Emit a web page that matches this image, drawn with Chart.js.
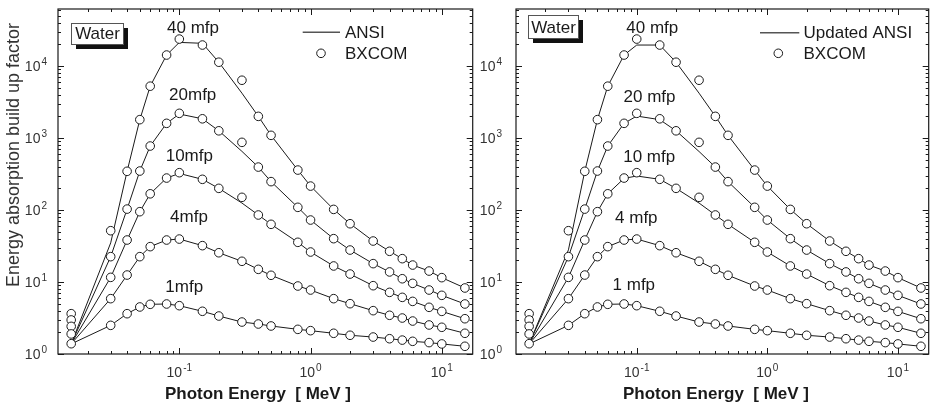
<!DOCTYPE html>
<html>
<head>
<meta charset="utf-8">
<script src="https://cdn.jsdelivr.net/npm/chart.js@4.4.0/dist/chart.umd.min.js"></script>
<style>
  html, body { margin: 0; padding: 0; background: #fff; overflow: hidden; }
  #wrap { position: relative; width: 931px; height: 404px; overflow: hidden; }
  canvas { position: absolute; top: 0; }
  #left { left: 0; }
  #right { left: 478px; }
</style>
</head>
<body>
<div id="wrap">
  <canvas id="left" width="478" height="404"></canvas>
  <canvas id="right" width="456" height="404"></canvas>
</div>
<script>
// photon energies (MeV)
const energy = [0.015, 0.03, 0.04, 0.05, 0.06, 0.08, 0.1, 0.15, 0.2, 0.3, 0.4, 0.5, 0.8, 1, 1.5, 2, 3, 4, 5, 6, 8, 10, 15];

// BXCOM points
const bx1  = [1.39, 2.5, 3.63, 4.5, 4.9, 4.95, 4.69, 3.92, 3.37, 2.78, 2.61, 2.45, 2.2, 2.11, 1.94, 1.82, 1.72, 1.63, 1.56, 1.5, 1.44, 1.38, 1.28];
const bx4  = [1.9, 5.87, 12.5, 22.5, 31, 38.3, 39.5, 32, 25.5, 19.4, 15, 12.4, 8.8, 7.74, 5.87, 5.0, 4.0, 3.45, 3.16, 2.87, 2.53, 2.35, 1.94];
const bx10 = [2.42, 11.6, 38.3, 94.8, 168, 278, 330, 267, 200, 150, 85.3, 63.3, 35.6, 26.1, 16.7, 12.9, 8.89, 7.18, 6.12, 5.38, 4.45, 3.91, 3.09];
const bx20 = [2.97, 22.5, 103, 348, 774, 1600, 2203, 1850, 1260, 871, 395, 248, 109, 72.6, 40, 27.8, 18, 13.8, 11.1, 9.58, 7.74, 6.53, 4.95];
const bx40 = [3.63, 51.6, 345, 1800, 5250, 14220, 23700, 19580, 11300, 6350, 2000, 1090, 359, 215, 102, 64.5, 37.1, 26.7, 21.1, 17.2, 14.2, 11.5, 8.26];

// ANSI curves (left)
const ansi1  = [1.38, 2.5, 3.63, 4.5, 4.9, 4.95, 4.69, 3.92, 3.37, 2.78, 2.61, 2.45, 2.2, 2.11, 1.94, 1.82, 1.72, 1.63, 1.56, 1.5, 1.44, 1.38, 1.28];
const ansi4  = [1.38, 5.87, 12.5, 22.5, 31, 38.3, 39.5, 32, 25.5, 19.4, 15, 12.4, 8.8, 7.74, 5.87, 5.0, 4.0, 3.45, 3.16, 2.87, 2.53, 2.35, 1.94];
const ansi10 = [1.38, 11.6, 38.3, 94.8, 168, 278, 322, 267, 200, 125, 85.3, 63.3, 35.6, 26.1, 16.7, 12.9, 8.89, 7.18, 6.12, 5.38, 4.45, 3.91, 3.09];
const ansi20 = [1.38, 22.5, 103, 348, 774, 1600, 2155, 1850, 1260, 653, 395, 248, 109, 72.6, 40, 27.8, 18, 13.8, 11.1, 9.58, 7.74, 6.53, 4.95];
const ansi40 = [1.38, 35, 345, 1800, 5250, 14220, 21300, 20700, 11300, 4200, 2000, 1090, 359, 215, 102, 64.5, 37.1, 26.7, 21.1, 17.2, 14.2, 11.5, 8.26];

// Updated ANSI curves (right)
const upd1  = [1.38, 2.5, 3.63, 4.5, 4.9, 4.95, 4.69, 3.92, 3.37, 2.78, 2.61, 2.45, 2.2, 2.11, 1.94, 1.82, 1.72, 1.63, 1.56, 1.5, 1.44, 1.38, 1.28];
const upd4  = [1.38, 5.87, 12.5, 22.5, 31, 38.3, 39.5, 32, 25.5, 19.4, 15, 12.4, 8.8, 7.74, 5.87, 5.0, 4.0, 3.45, 3.16, 2.87, 2.53, 2.35, 1.94];
const upd10 = [1.38, 11.6, 38.3, 94.8, 168, 275, 297, 267, 200, 125, 85.3, 63.3, 35.6, 26.1, 16.7, 12.9, 8.89, 7.18, 6.12, 5.38, 4.45, 3.91, 3.09];
const upd20 = [1.38, 22.5, 103, 348, 774, 1600, 2020, 1800, 1260, 650, 395, 248, 109, 72.6, 40, 27.8, 18, 13.8, 11.1, 9.58, 7.74, 6.53, 4.95];
const upd40 = [1.38, 28, 345, 1800, 5250, 14220, 19580, 19580, 11300, 4200, 2000, 1090, 359, 215, 102, 64.5, 37.1, 26.7, 21.1, 17.2, 14.2, 11.5, 8.26];

const xMajor = [0.1, 1, 10];
const yMajor = [1, 10, 100, 1000, 10000];

const FONT = '"Liberation Sans", Arial, Helvetica, sans-serif';
const INK = '#1a1a1a';

function pts(ys) {
  return energy.map((e, i) => ({ x: e, y: ys[i] }));
}

function logTicks(min, max) {
  const out = [];
  for (let k = Math.floor(Math.log10(min)); k <= Math.ceil(Math.log10(max)); k++) {
    for (let m = 1; m <= 9; m++) {
      const v = m * Math.pow(10, k);
      if (v >= min && v <= max) out.push({ v, major: m === 1 });
    }
  }
  return out;
}

function drawPow(ctx, value, x, y, align) {
  const exp = String(Math.round(Math.log10(value)));
  ctx.font = '14px ' + FONT;
  const w1 = ctx.measureText('10').width;
  ctx.font = '10px ' + FONT;
  const w2 = ctx.measureText(exp).width;
  const total = w1 + 1 + w2;
  const x0 = align === 'right' ? x - total : x - total / 2;
  ctx.textAlign = 'left';
  ctx.textBaseline = 'alphabetic';
  ctx.font = '14px ' + FONT;
  ctx.fillText('10', x0, y);
  ctx.font = '10px ' + FONT;
  ctx.fillText(exp, x0 + w1 + 1, y - 6);
}

const framePlugin = {
  id: 'frame',
  afterDatasetsDraw(chart, args, o) {
    const ctx = chart.ctx;
    const a = chart.chartArea;
    const sx = chart.scales.x, sy = chart.scales.y;
    const dx = o.offset;
    ctx.save();

    // frame
    ctx.strokeStyle = INK;
    ctx.lineWidth = 1.2;
    ctx.strokeRect(a.left, a.top, a.right - a.left, a.bottom - a.top);

    // inward ticks on all sides
    ctx.lineWidth = 1;
    ctx.beginPath();
    logTicks(sx.min, sx.max).forEach(t => {
      const px = Math.round(sx.getPixelForValue(t.v)) + 0.5;
      const len = t.major ? 6 : 3;
      ctx.moveTo(px, a.bottom); ctx.lineTo(px, a.bottom - len);
      ctx.moveTo(px, a.top); ctx.lineTo(px, a.top + len);
    });
    logTicks(sy.min, sy.max).forEach(t => {
      const py = Math.round(sy.getPixelForValue(t.v)) + 0.5;
      const len = t.major ? 6 : 3;
      ctx.moveTo(a.left, py); ctx.lineTo(a.left + len, py);
      ctx.moveTo(a.right, py); ctx.lineTo(a.right - len, py);
    });
    ctx.stroke();

    // tick labels
    ctx.fillStyle = '#333';
    xMajor.forEach(v => drawPow(ctx, v, sx.getPixelForValue(v), a.bottom + 23, 'center'));
    yMajor.forEach(v => drawPow(ctx, v, a.left - o.yLabelGap, sy.getPixelForValue(v) + 5, 'right'));

    // axis titles
    ctx.fillStyle = INK;
    ctx.font = 'bold 17px ' + FONT;
    ctx.textAlign = 'center';
    ctx.fillText('Photon Energy  [ MeV ]', o.xTitle[0] - dx, o.xTitle[1]);
    if (o.yTitle) {
      ctx.save();
      ctx.translate(o.yTitle[0], o.yTitle[1]);
      ctx.rotate(-Math.PI / 2);
      ctx.fillStyle = '#333';
      ctx.font = '18px ' + FONT;
      ctx.fillText('Energy absorption build up factor', 0, 0);
      ctx.restore();
    }

    // "Water" box with shadow
    const b = o.box;
    ctx.fillStyle = '#111';
    ctx.fillRect(b[0] - dx + 5, b[1] + 5, b[2], b[3]);
    ctx.fillStyle = '#fff';
    ctx.fillRect(b[0] - dx, b[1], b[2], b[3]);
    ctx.strokeStyle = '#555';
    ctx.lineWidth = 1;
    ctx.strokeRect(b[0] - dx + 0.5, b[1] + 0.5, b[2], b[3]);
    ctx.fillStyle = INK;
    ctx.font = '17px ' + FONT;
    ctx.textAlign = 'center';
    ctx.fillText('Water', b[0] - dx + b[2] / 2 + 0.5, b[1] + b[3] - 5);

    // curve labels
    ctx.font = '17px ' + FONT;
    o.labels.forEach(l => ctx.fillText(l[0], l[1] - dx, l[2]));

    // legend
    const g = o.legend;
    ctx.strokeStyle = '#555';
    ctx.lineWidth = 1.5;
    ctx.beginPath();
    ctx.moveTo(g.line[0] - dx, g.line[2]);
    ctx.lineTo(g.line[1] - dx, g.line[2]);
    ctx.stroke();
    ctx.beginPath();
    ctx.arc(g.dot[0] - dx, g.dot[1], 4.3, 0, Math.PI * 2);
    ctx.fillStyle = '#fff';
    ctx.fill();
    ctx.strokeStyle = INK;
    ctx.lineWidth = 1;
    ctx.stroke();
    ctx.fillStyle = INK;
    ctx.textAlign = 'left';
    ctx.fillText(g.lineText, g.textX - dx, 37.7);
    ctx.fillText('BXCOM', g.textX - dx, 59.3);

    ctx.restore();
  }
};

function makeChart(id, curves, padLeft, padRight, frameOpts) {
  const series = [bx1, bx4, bx10, bx20, bx40];
  const datasets = [];
  series.forEach(s => datasets.push({
    data: pts(s), showLine: false, order: 0,
    pointRadius: 4.3, pointBorderWidth: 1,
    pointBorderColor: INK, pointBackgroundColor: '#fff'
  }));
  curves.forEach(c => datasets.push({
    data: pts(c), showLine: true, order: 1,
    borderColor: INK, borderWidth: 1, pointRadius: 0, tension: 0
  }));
  return new Chart(document.getElementById(id), {
    type: 'line',
    data: { datasets },
    options: {
      responsive: false,
      animation: false,
      devicePixelRatio: 1,
      layout: { padding: { left: padLeft, right: padRight, top: 9, bottom: 50 } },
      scales: {
        x: { type: 'logarithmic', min: 0.0119, max: 17.2, display: false },
        y: { type: 'logarithmic', min: 1, max: 62000, display: false }
      },
      plugins: {
        legend: { display: false },
        tooltip: { enabled: false },
        frame: frameOpts
      }
    },
    plugins: [framePlugin]
  });
}

makeChart('left', [ansi1, ansi4, ansi10, ansi20, ansi40], 58, 3, {
  offset: 0,
  yLabelGap: 11,
  xTitle: [258, 399],
  yTitle: [19, 155],
  box: [71, 23, 52, 21],
  labels: [['40 mfp', 193, 32.5], ['20mfp', 192.7, 100], ['10mfp', 189.3, 161], ['4mfp', 189, 221.7], ['1mfp', 184.2, 291.7]],
  legend: { line: [302.7, 340, 32.3], dot: [321, 53.3], textX: 345, lineText: 'ANSI' }
});

makeChart('right', [upd1, upd4, upd10, upd20, upd40], 38, 1, {
  offset: 478,
  yLabelGap: 14,
  xTitle: [716, 399],
  yTitle: null,
  box: [528, 15, 50, 23],
  labels: [['40 mfp', 652.3, 32.7], ['20 mfp', 649.5, 101.7], ['10 mfp', 649.2, 161.7], ['4 mfp', 636.3, 223.3], ['1 mfp', 633.8, 290]],
  legend: { line: [760, 799.3, 32.7], dot: [778.3, 53.3], textX: 803.5, lineText: 'Updated ANSI' }
});
</script>
</body>
</html>
